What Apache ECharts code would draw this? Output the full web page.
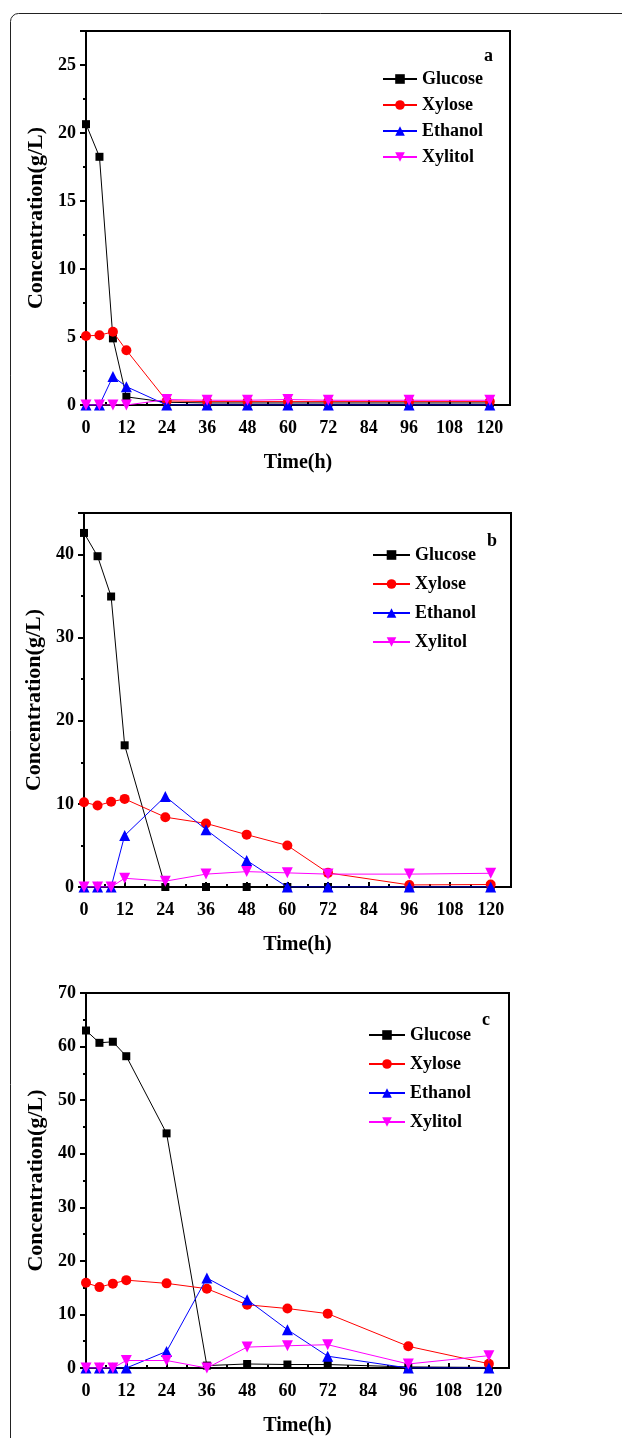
<!DOCTYPE html>
<html>
<head>
<meta charset="utf-8">
<script src="https://cdn.jsdelivr.net/npm/echarts@6/dist/echarts.min.js"></script>
<style>
  html, body { margin: 0; padding: 0; background: #fff; }
  #main { width: 622px; height: 1438px; }
</style>
</head>
<body>
<div id="main"></div>
<script>
// sampling times (h)
const times = [0, 4, 8, 12, 24, 36, 48, 60, 72, 96, 120]
const seriesNames = ['Glucose', 'Xylose', 'Ethanol', 'Xylitol']

// panel a
const glucoseA = [20.65, 18.25, 4.9, 0.6, 0.2, 0.15, 0.15, 0.15, 0.15, 0.15, 0.15]
const xyloseA = [5.08, 5.13, 5.38, 4.03, 0.3, 0.25, 0.25, 0.25, 0.25, 0.25, 0.25]
const ethanolA = [0, 0, 2.1, 1.35, 0, 0, 0, 0, 0, 0, 0]
const xylitolA = [0, 0, 0, 0, 0.4, 0.35, 0.35, 0.4, 0.35, 0.35, 0.35]

// panel b
const glucoseB = [42.6, 39.8, 34.95, 17.05, 0, 0, 0, 0, 0, 0, 0]
const xyloseB = [10.2, 9.8, 10.25, 10.6, 8.4, 7.65, 6.3, 5.0, 1.7, 0.25, 0.3]
const ethanolB = [0, 0, 0, 6.2, 10.9, 6.9, 3.2, 0, 0, 0, 0]
const xylitolB = [0, 0, 0, 1.05, 0.7, 1.55, 1.85, 1.7, 1.55, 1.55, 1.65]

// panel c
const glucoseC = [63.0, 60.7, 60.9, 58.2, 43.8, 0.45, 0.75, 0.65, 0.65, 0.2, 0.1]
const xyloseC = [15.9, 15.1, 15.75, 16.4, 15.8, 14.8, 11.8, 11.1, 10.15, 4.05, 0.8]
const ethanolC = [0, 0, 0, 0, 3.1, 16.8, 12.75, 7.15, 2.2, 0, 0]
const xylitolC = [0, 0, 0, 1.4, 1.4, 0, 3.9, 4.15, 4.35, 0.75, 2.3]

const colors = ['#000000', '#ff0000', '#0000ff', '#ff00ff']
const symbols = ['rect', 'circle', 'triangle', 'triangle']
const symbolSizes = [8, 10, 11, 11]
const rotations = [0, 0, 0, 180]
const font = 'Liberation Serif, Times New Roman, serif'

const panels = [
  { letter: 'a', data: [glucoseA, xyloseA, ethanolA, xylitolA], yMax: 27.5, yInterval: 5,
    grid: { left: 86, top: 31, width: 424, height: 374 },
    legend: { left: 377, top: 64, itemWidth: 34, itemGap: 6 }, letterPos: [489, 58] },
  { letter: 'b', data: [glucoseB, xyloseB, ethanolB, xylitolB], yMax: 45, yInterval: 10,
    grid: { left: 84, top: 513, width: 427, height: 374 },
    legend: { left: 367, top: 540, itemWidth: 37, itemGap: 9 }, letterPos: [492, 543] },
  { letter: 'c', data: [glucoseC, xyloseC, ethanolC, xylitolC], yMax: 70, yInterval: 10,
    grid: { left: 86, top: 993, width: 423, height: 375 },
    legend: { left: 363, top: 1020, itemWidth: 36, itemGap: 9 }, letterPos: [487, 1022] }
]

const grids = [], xAxes = [], yAxes = [], series = [], legends = [], graphics = []

// figure frame with rounded top-left corner
graphics.push({
  type: 'rect', silent: true,
  shape: { x: 10.5, y: 13.5, width: 700, height: 1500, r: [8, 0, 0, 0] },
  style: { fill: 'none', stroke: '#222', lineWidth: 1 }
})

panels.forEach((p, i) => {
  grids.push(Object.assign({ show: true, borderColor: '#000', borderWidth: 2, backgroundColor: 'transparent' }, p.grid))
  xAxes.push({
    gridIndex: i, type: 'value', min: 0, max: 126, interval: 12,
    name: 'Time(h)', nameLocation: 'middle', nameGap: 48,
    nameTextStyle: { fontFamily: font, fontWeight: 'bold', fontSize: 20, color: '#000' },
    axisLine: { show: true, onZero: false, lineStyle: { color: '#000', width: 2 } },
    axisTick: { show: true, inside: true, length: 5, lineStyle: { color: '#000', width: 2 } },
    minorTick: { show: true, splitNumber: 2, length: 3, lineStyle: { color: '#000', width: 2 } },
    axisLabel: { showMaxLabel: false, margin: 14, fontFamily: font, fontWeight: 'bold', fontSize: 18, color: '#000' },
    splitLine: { show: false }
  })
  yAxes.push({
    gridIndex: i, type: 'value', min: 0, max: p.yMax, interval: p.yInterval,
    name: 'Concentration(g/L)', nameLocation: 'middle', nameGap: 34,
    nameTextStyle: { fontFamily: font, fontWeight: 'bold', fontSize: 22, color: '#000' },
    axisLine: { show: true, lineStyle: { color: '#000', width: 2 } },
    axisTick: { show: true, length: 6, lineStyle: { color: '#000', width: 2 } },
    minorTick: { show: true, splitNumber: 2, length: 3, lineStyle: { color: '#000', width: 2 } },
    axisLabel: { showMaxLabel: p.yMax % p.yInterval === 0, margin: 10, fontFamily: font, fontWeight: 'bold', fontSize: 18, color: '#000' },
    splitLine: { show: false }
  })
  seriesNames.forEach((name, k) => {
    series.push({
      name: name, type: 'line', xAxisIndex: i, yAxisIndex: i,
      data: times.map((t, j) => [t, p.data[k][j]]),
      symbol: symbols[k], symbolSize: symbolSizes[k], symbolRotate: rotations[k],
      lineStyle: { color: colors[k], width: 1 },
      itemStyle: { color: colors[k] },
      z: 2 + k
    })
  })
  legends.push({
    orient: 'vertical', left: p.legend.left, top: p.legend.top,
    itemWidth: p.legend.itemWidth, itemHeight: 12, itemGap: p.legend.itemGap,
    data: seriesNames, selectedMode: false,
    textStyle: { fontFamily: font, fontWeight: 'bold', fontSize: 18, color: '#000', lineHeight: 20 }
  })
  graphics.push({
    type: 'text', left: p.letterPos[0] - 5, top: p.letterPos[1] - 11,
    style: { text: p.letter, font: 'bold 18px ' + font, fill: '#000' }
  })
})

const myChart = echarts.init(document.getElementById('main'))
myChart.setOption({
  animation: false,
  grid: grids,
  xAxis: xAxes,
  yAxis: yAxes,
  legend: legends,
  series: series,
  graphic: graphics
})
</script>
</body>
</html>
